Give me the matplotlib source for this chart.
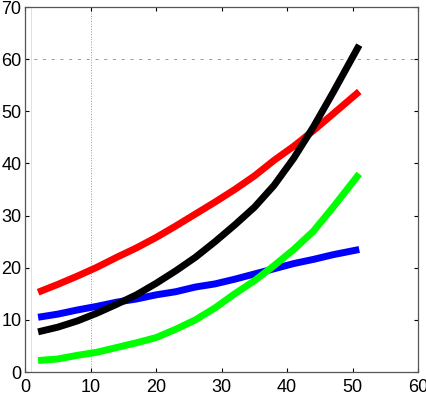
import matplotlib
matplotlib.use("Agg")
import matplotlib.pyplot as plt

x = [2, 5, 8, 11, 14, 17, 20, 23, 26, 29, 32, 35, 38, 41, 44, 47, 51]
red = [15.3, 16.8, 18.4, 20.1, 22.0, 23.8, 25.8, 28.0, 30.3, 32.6, 35.0, 37.6, 40.6, 43.3, 46.3, 49.5, 53.8]
blue = [10.5, 11.1, 11.9, 12.6, 13.4, 14.0, 14.8, 15.4, 16.3, 16.9, 17.8, 18.8, 19.8, 20.8, 21.6, 22.5, 23.5]
black = [7.7, 8.6, 9.8, 11.3, 13.0, 14.8, 17.0, 19.4, 22.0, 25.0, 28.2, 31.6, 35.8, 41.0, 47.0, 53.6, 62.7]
green = [2.2, 2.5, 3.2, 3.8, 4.7, 5.6, 6.6, 8.2, 10.0, 12.3, 15.0, 17.5, 20.4, 23.5, 27.0, 31.6, 38.0]

xticks = [0, 10, 20, 30, 40, 50, 60]
yticks = [0, 10, 20, 30, 40, 50, 60, 70]

plt.rcParams['font.family'] = ['Liberation Sans', 'DejaVu Sans']

fig = plt.figure(figsize=(4.27, 3.98), dpi=100)
ax = fig.add_axes([0.0585, 0.0653, 0.921, 0.917])

ax.axvline(10, color='#999999', lw=0.7, ls=':', zorder=0)
ax.axvline(0.9, color='#e0e0e0', lw=0.7, zorder=0)
ax.axhline(60, color='#999999', lw=0.7, ls=(0, (3, 6)), zorder=0)

lw = 5.0
ax.plot(x, red, color='#ff0000', lw=lw, solid_capstyle='butt')
ax.plot(x, blue, color='#0000ff', lw=lw, solid_capstyle='butt')
ax.plot(x, black, color='#000000', lw=lw, solid_capstyle='butt')
ax.plot(x, green, color='#00ff00', lw=lw, solid_capstyle='butt')

ax.set_xlim(0, 60)
ax.set_ylim(0, 70)
ax.set_xticks(xticks)
ax.set_yticks(yticks)
ax.tick_params(direction='in', length=3, width=0.8, top=True, right=True,
               labelsize=13, colors='black')
ax.tick_params(axis='x', pad=5)
ax.tick_params(axis='y', pad=2.5)
for s in ax.spines.values():
    s.set_color('#555555')
    s.set_linewidth(0.9)

fig.savefig('out.png', dpi=100)
